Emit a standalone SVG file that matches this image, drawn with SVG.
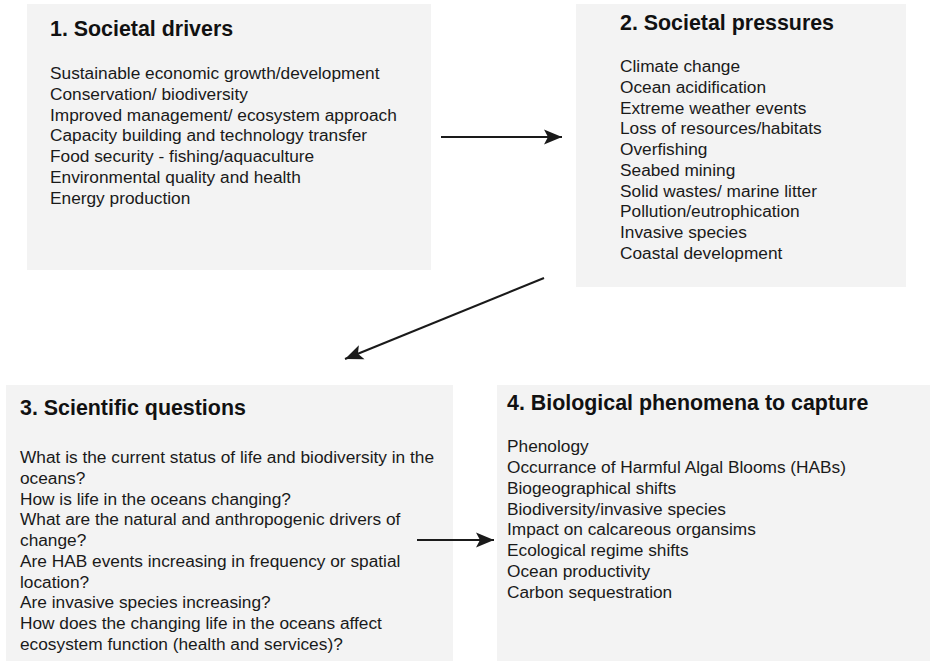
<svg xmlns="http://www.w3.org/2000/svg" width="930" height="661" viewBox="0 0 930 661">
<style>
.box{fill:#f3f3f3;stroke:none}
.t{font-family:"Liberation Sans",Arial,sans-serif;font-weight:bold;font-size:21.4px;fill:#111}
.b{font-family:"Liberation Sans",Arial,sans-serif;font-size:17.3px;fill:#1a1a1a}
.c{stroke:#1a1a1a;stroke-width:2;fill:none}
</style>
<defs>
<marker id="ah" markerUnits="userSpaceOnUse" markerWidth="20" markerHeight="16" refX="18" refY="8" orient="auto">
<path d="M0,0.5 L18,8 L0,15.5 L4,8 Z" fill="#1a1a1a"/>
</marker>
</defs>
<rect width="930" height="661" fill="#fff"/>
<g id="node1">
<rect class="box" x="27" y="4" width="404" height="266"/>
<text class="t" x="50" y="36">1. Societal drivers</text>
<text class="b" x="50" y="79">Sustainable economic growth/development</text>
<text class="b" x="50" y="100">Conservation/ biodiversity</text>
<text class="b" x="50" y="120.5">Improved management/ ecosystem approach</text>
<text class="b" x="50" y="141">Capacity building and technology transfer</text>
<text class="b" x="50" y="162">Food security - fishing/aquaculture</text>
<text class="b" x="50" y="183">Environmental quality and health</text>
<text class="b" x="50" y="203.5">Energy production</text>
</g>
<g id="node2">
<rect class="box" x="576" y="4" width="330" height="283"/>
<text class="t" x="620" y="30">2. Societal pressures</text>
<text class="b" x="620" y="72">Climate change</text>
<text class="b" x="620" y="93">Ocean acidification</text>
<text class="b" x="620" y="113.5">Extreme weather events</text>
<text class="b" x="620" y="134">Loss of resources/habitats</text>
<text class="b" x="620" y="155">Overfishing</text>
<text class="b" x="620" y="176">Seabed mining</text>
<text class="b" x="620" y="196.5">Solid wastes/ marine litter</text>
<text class="b" x="620" y="217">Pollution/eutrophication</text>
<text class="b" x="620" y="238">Invasive species</text>
<text class="b" x="620" y="259">Coastal development</text>
</g>
<g id="node3">
<rect class="box" x="6" y="385" width="447" height="276"/>
<text class="t" x="20" y="415">3. Scientific questions</text>
<text class="b" x="20" y="463">What is the current status of life and biodiversity in the</text>
<text class="b" x="20" y="484">oceans?</text>
<text class="b" x="20" y="504.5">How is life in the oceans changing?</text>
<text class="b" x="20" y="525">What are the natural and anthropogenic drivers of</text>
<text class="b" x="20" y="546">change?</text>
<text class="b" x="20" y="567">Are HAB events increasing in frequency or spatial</text>
<text class="b" x="20" y="587.5">location?</text>
<text class="b" x="20" y="608">Are invasive species increasing?</text>
<text class="b" x="20" y="629">How does the changing life in the oceans affect</text>
<text class="b" x="20" y="650">ecosystem function (health and services)?</text>
</g>
<g id="node4">
<rect class="box" x="497" y="385" width="433" height="276"/>
<text class="t" x="507" y="410">4. Biological phenomena to capture</text>
<text class="b" x="507" y="452">Phenology</text>
<text class="b" x="507" y="473">Occurrance of Harmful Algal Blooms (HABs)</text>
<text class="b" x="507" y="494">Biogeographical shifts</text>
<text class="b" x="507" y="514.5">Biodiversity/invasive species</text>
<text class="b" x="507" y="535">Impact on calcareous organsims</text>
<text class="b" x="507" y="556">Ecological regime shifts</text>
<text class="b" x="507" y="577">Ocean productivity</text>
<text class="b" x="507" y="597.5">Carbon sequestration</text>
</g>
<g id="connectors">
<line class="c" x1="441" y1="137" x2="562" y2="137" marker-end="url(#ah)"/>
<line class="c" x1="544" y1="278" x2="345" y2="359" marker-end="url(#ah)"/>
<line class="c" x1="417" y1="540" x2="494" y2="540" marker-end="url(#ah)"/>
</g>
</svg>
